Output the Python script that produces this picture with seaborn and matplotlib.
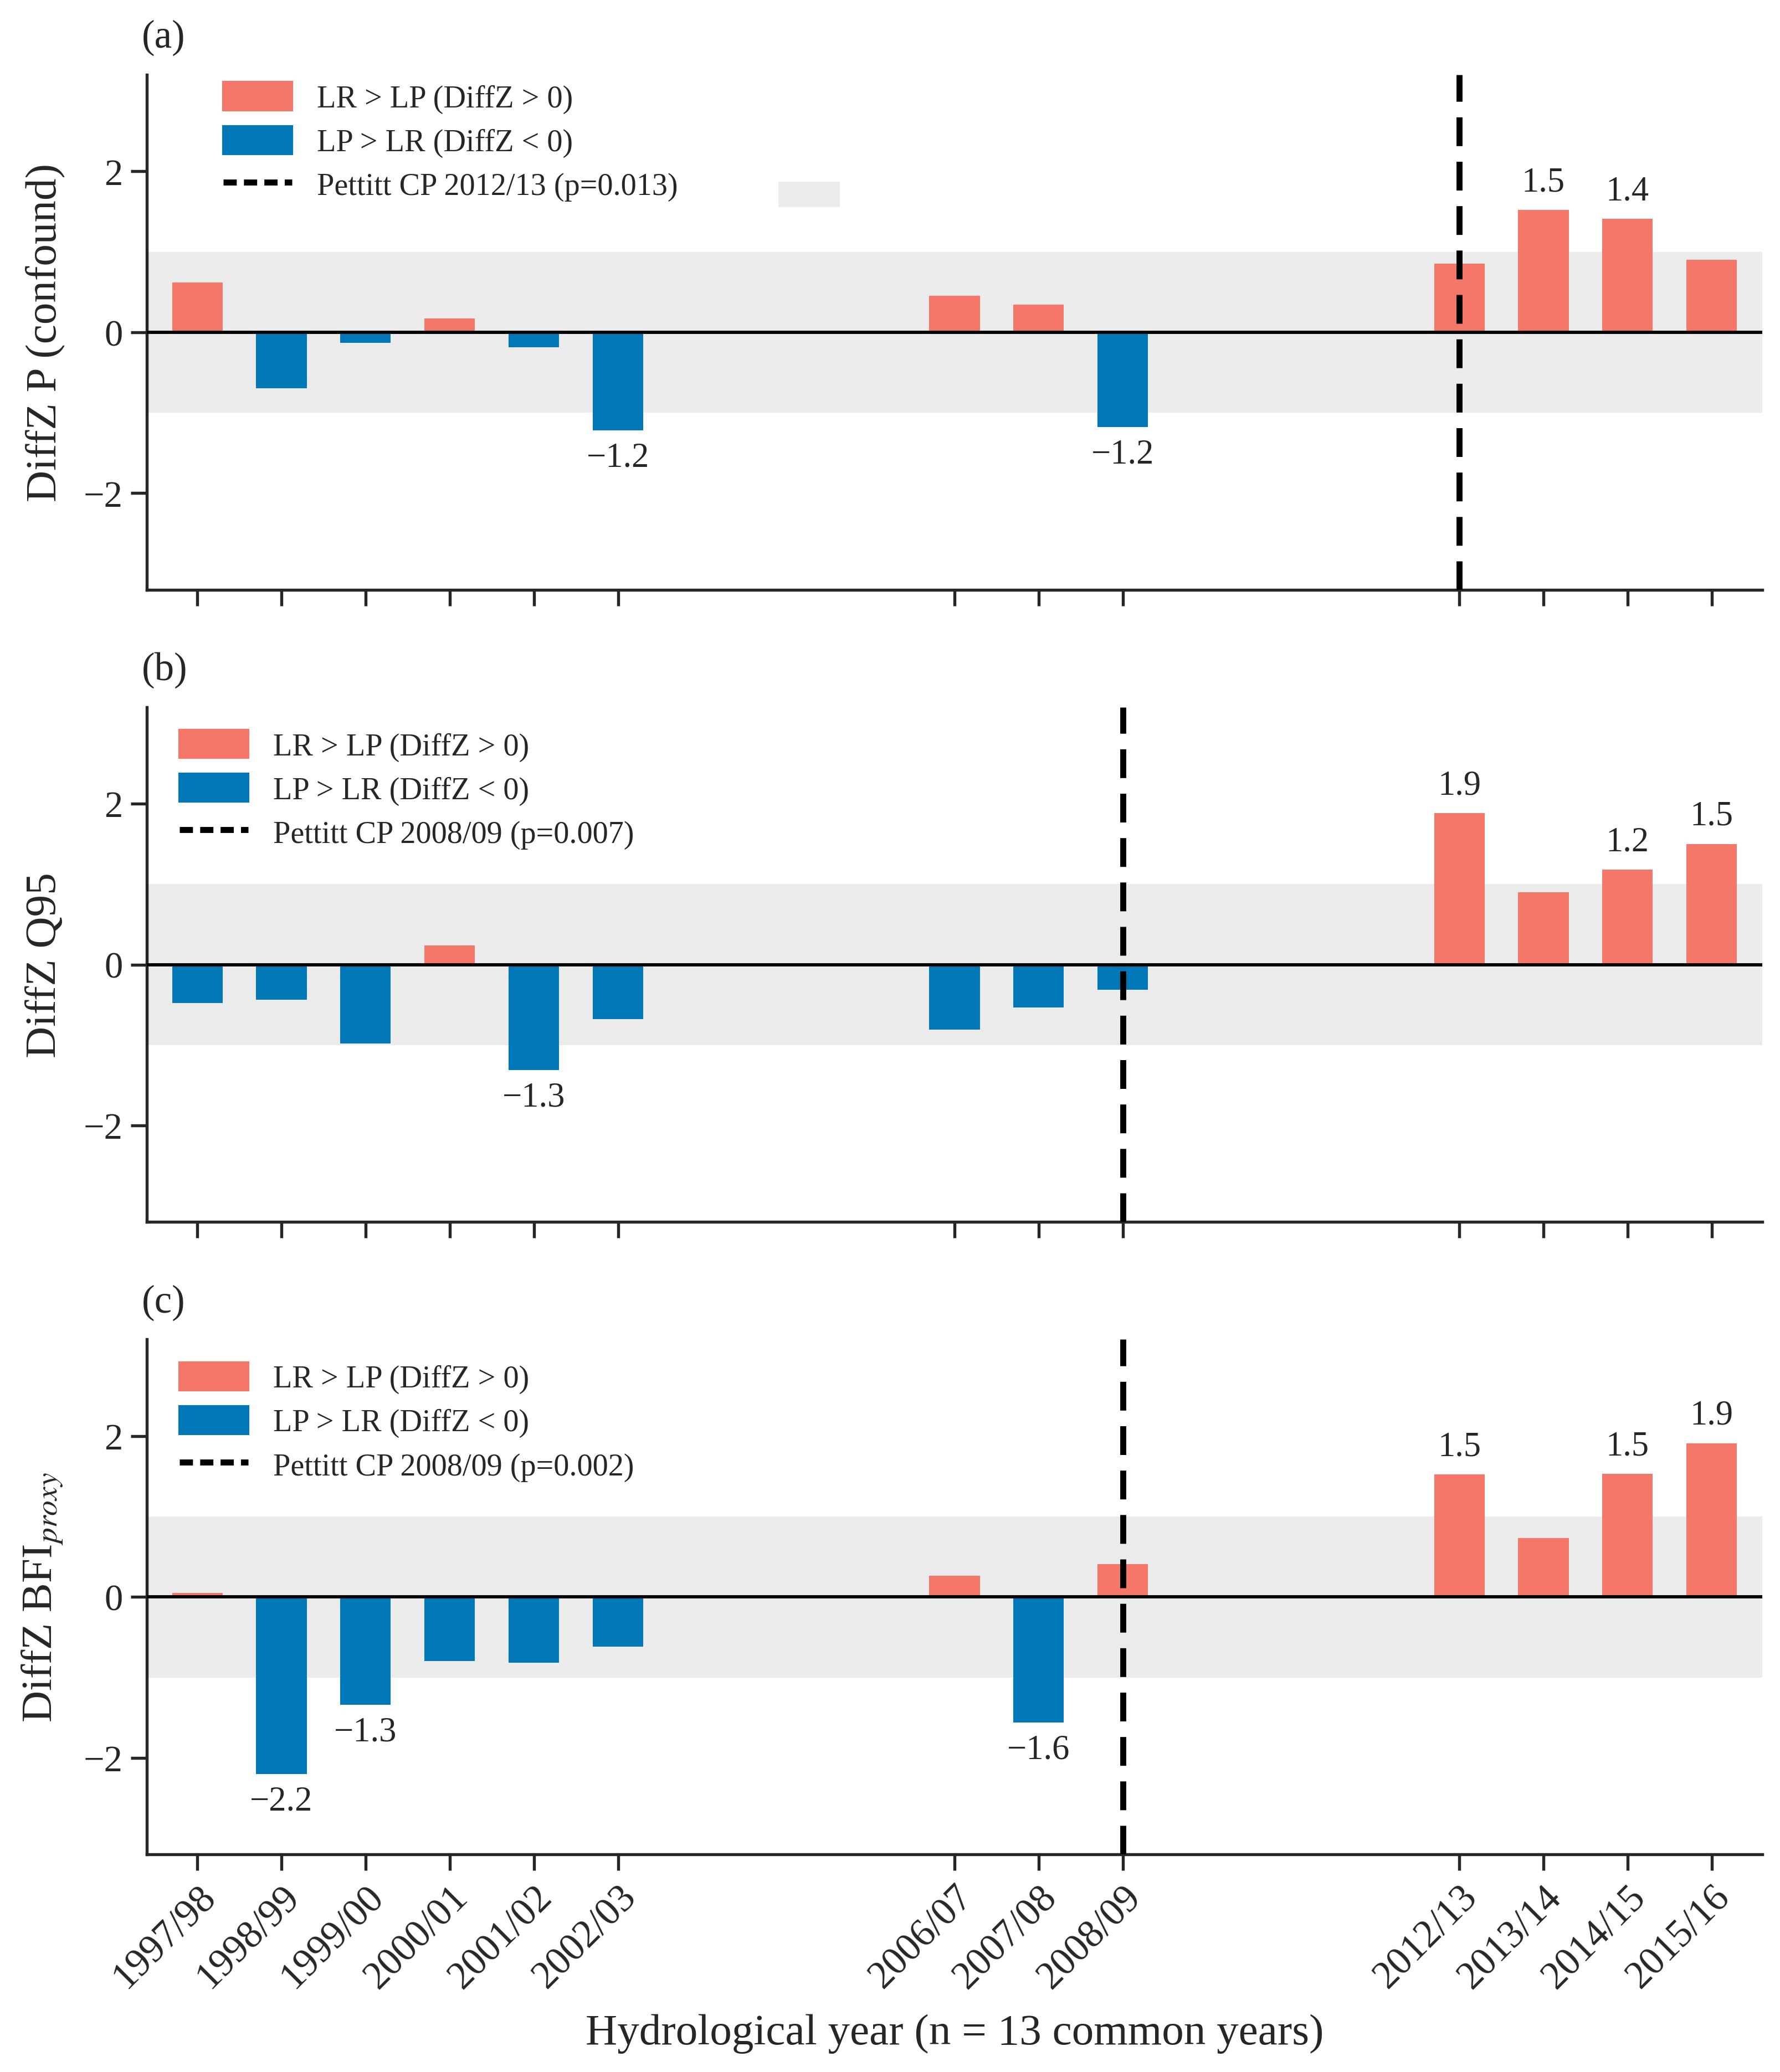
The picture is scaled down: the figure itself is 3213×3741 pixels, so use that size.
import numpy as np
import pandas as pd
import seaborn as sns
import matplotlib.pyplot as plt
from matplotlib.patches import Patch, Rectangle
from matplotlib.lines import Line2D

# hydrological years (start year of each), 13 common years
years = [1997, 1998, 1999, 2000, 2001, 2002, 2006, 2007, 2008, 2012, 2013, 2014, 2015]
year_labels = ['1997/98', '1998/99', '1999/00', '2000/01', '2001/02', '2002/03',
               '2006/07', '2007/08', '2008/09', '2012/13', '2013/14', '2014/15', '2015/16']

diffz_p = [0.62, -0.70, -0.13, 0.17, -0.19, -1.22, 0.45, 0.34, -1.18, 0.85, 1.52, 1.41, 0.90]
diffz_q95 = [-0.48, -0.44, -0.98, 0.24, -1.31, -0.68, -0.81, -0.53, -0.31, 1.88, 0.90, 1.18, 1.50]
diffz_bfi = [0.05, -2.20, -1.34, -0.80, -0.82, -0.62, 0.26, -1.56, 0.41, 1.52, 0.73, 1.53, 1.91]

panel_ylabels = ['DiffZ P (confound)', 'DiffZ Q95', r'DiffZ BFI$_{proxy}$']
panel_tags = ['(a)', '(b)', '(c)']
cp_years = [2012, 2008, 2008]
cp_labels = ['Pettitt CP 2012/13 (p=0.013)', 'Pettitt CP 2008/09 (p=0.007)',
             'Pettitt CP 2008/09 (p=0.002)']

RED = '#F4776A'
BLUE = '#0077B6'
BAND = '#EBEBEB'

sns.set_theme(style='ticks')
plt.rcParams['font.family'] = ['Liberation Serif', 'DejaVu Serif']
plt.rcParams['mathtext.fontset'] = 'stix'

fig, axs = plt.subplots(3, 1, figsize=(10.71, 12.473), dpi=300, sharex=True)
fig.subplots_adjust(left=0.0825, right=0.99, top=0.9637, bottom=0.105, hspace=0.228)

for i, (ax, vals) in enumerate(zip(axs, [diffz_p, diffz_q95, diffz_bfi])):
    df = pd.DataFrame({'year': years, 'value': vals})
    df['sign'] = np.where(df['value'] > 0, 'pos', 'neg')

    ax.axhspan(-1, 1, color=BAND, zorder=0, lw=0)
    sns.barplot(data=df, x='year', y='value', hue='sign', palette={'pos': RED, 'neg': BLUE},
                native_scale=True, dodge=False, width=0.6, legend=False, saturation=1,
                linewidth=0, ax=ax, zorder=2)
    ax.axhline(0, color='black', lw=1.4, zorder=3)
    ax.axvline(cp_years[i], color='black', lw=2.6, ls=(0, (4.8, 2.6)), zorder=4)

    # value labels for |DiffZ| >= 1
    for x, v in zip(years, vals):
        if abs(v) >= 1:
            ax.annotate(f'{v:.1f}'.replace('-', '\u2212'), (x, v),
                        xytext=(0, 5 if v > 0 else -5), textcoords='offset points',
                        ha='center', va='bottom' if v > 0 else 'top', fontsize=15)

    ax.set_xlim(1996.4, 2015.6)
    ax.set_ylim(-3.2, 3.2)
    ax.set_yticks([-2, 0, 2])
    ax.set_xticks(years)
    ax.set_ylabel(panel_ylabels[i], fontsize=19, labelpad=8)
    ax.set_xlabel('')
    ax.set_title(panel_tags[i], loc='left', fontsize=17, pad=12, x=-0.003)
    ax.tick_params(axis='both', labelsize=16, length=7, width=1.3, direction='out')
    for s in ['left', 'bottom']:
        ax.spines[s].set_linewidth(1.3)
    sns.despine(ax=ax)

    handles = [Patch(color=RED, label='LR > LP (DiffZ > 0)'),
               Patch(color=BLUE, label='LP > LR (DiffZ < 0)'),
               Line2D([0], [0], color='black', lw=2.6, ls=(0, (2.2, 1.2)), label=cp_labels[i])]
    anchor = (0.03, 1.04) if i == 0 else (0.003, 1.01)
    ax.legend(handles=handles, loc='upper left', bbox_to_anchor=anchor, frameon=False,
              fontsize=13.5, handlelength=2.2, handleheight=1.0, labelspacing=0.4,
              handletextpad=0.8)

# stray grey legend swatch in panel (a)
axs[0].add_patch(Rectangle((0.391, 0.743), 0.038, 0.049, transform=axs[0].transAxes,
                           color=BAND, lw=0, zorder=1))

axs[-1].set_xticklabels(year_labels, rotation=45, ha='right', rotation_mode='anchor', fontsize=17)
axs[-1].set_xlabel('Hydrological year (n = 13 common years)', fontsize=19, labelpad=8)

plt.savefig('out.png', dpi=300)
